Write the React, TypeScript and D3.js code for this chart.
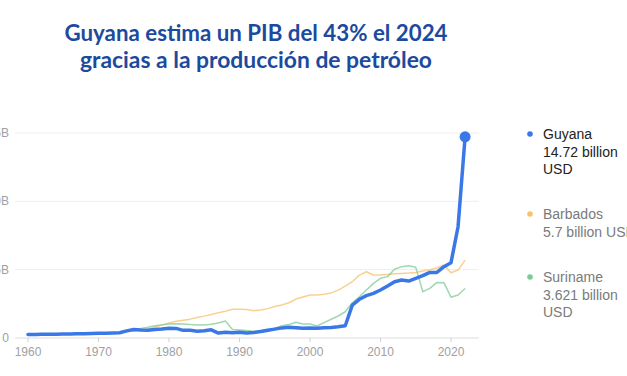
import React from "react";
import * as d3 from "d3";

const years: number[] = d3.range(1960, 2023);

const guyana: (number | null)[] = [
  0.25, 0.26, 0.27, 0.27, 0.28, 0.29, 0.3, 0.31, 0.32, 0.33,
  0.34, 0.35, 0.36, 0.38, 0.52, 0.62, 0.58, 0.56, 0.62, 0.66,
  0.72, 0.7, 0.56, 0.57, 0.5, 0.53, 0.6, 0.36, 0.42, 0.38,
  0.42, 0.37, 0.4, 0.48, 0.57, 0.65, 0.74, 0.78, 0.75, 0.72,
  0.74, 0.72, 0.75, 0.77, 0.82, 0.9, 2.41, 2.83, 3.1, 3.27,
  3.51, 3.8, 4.12, 4.24, 4.17, 4.37, 4.56, 4.8, 4.8, 5.22,
  5.51, 8.14, 14.72,
];

const barbados: (number | null)[] = [
  null, null, null, null, null, null, null, null, null, null,
  0.3, 0.32, 0.35, 0.38, 0.45, 0.52, 0.56, 0.64, 0.8, 0.95,
  1.1, 1.22, 1.3, 1.38, 1.5, 1.6, 1.72, 1.84, 1.96, 2.1,
  2.1, 2.08, 2.0, 2.05, 2.15, 2.3, 2.42, 2.58, 2.85, 3.0,
  3.15, 3.15, 3.2, 3.3, 3.5, 3.8, 4.12, 4.6, 4.85, 4.61,
  4.61, 4.65, 4.7, 4.72, 4.75, 4.8, 4.9, 5.0, 5.12, 5.34,
  4.78, 4.97, 5.7,
];

const suriname: (number | null)[] = [
  null, null, null, null, null, null, null, null, null, null,
  null, null, null, null, null, 0.6, 0.7, 0.78, 0.9, 0.96,
  1.02, 1.05, 1.02, 0.98, 0.96, 0.96, 1.0, 1.1, 1.25, 0.62,
  0.58, 0.55, 0.5, 0.45, 0.48, 0.7, 0.9, 0.98, 1.15, 1.02,
  1.02, 0.88, 1.12, 1.37, 1.61, 1.92, 2.58, 3.02, 3.51, 4.0,
  4.37, 4.49, 5.03, 5.22, 5.29, 5.17, 3.39, 3.63, 4.07, 4.05,
  2.98, 3.15, 3.62,
];

const yTicks: number[] = [0, 5, 10, 15];
const yTickLabels: string[] = ["0", "5B", "10B", "15B"];
const xTicks: number[] = [1960, 1970, 1980, 1990, 2000, 2010, 2020];

const titleLines: string[] = [
  "Guyana estima un PIB del 43% el 2024",
  "gracias a la producción de petróleo",
];

const legendItems = [
  { name: "Guyana", lines: ["Guyana", "14.72 billion", "USD"], color: "#3b78e7", text: "#222222" },
  { name: "Barbados", lines: ["Barbados", "5.7 billion USD"], color: "#f6c26b", text: "#7a7a7a" },
  { name: "Suriname", lines: ["Suriname", "3.621 billion", "USD"], color: "#7ccb96", text: "#7a7a7a" },
];

export default function App() {
  const W = 627;
  const H = 376;
  const x = d3.scaleLinear().domain([1960, 2020]).range([28, 451]);
  const y = d3.scaleLinear().domain([0, 15]).range([338, 133]);

  const mk = (vals: (number | null)[]) =>
    d3
      .line<number>()
      .defined((i) => vals[i] != null)
      .x((i) => x(years[i]))
      .y((i) => y(vals[i] as number))(d3.range(years.length)) || "";

  const last = years.length - 1;
  const legendTop = [139, 219, 282];

  return (
    <svg
      width={W}
      height={H}
      style={{ position: "absolute", left: 0, top: 0, background: "#ffffff", overflow: "hidden" }}
      fontFamily="'Liberation Sans', Arial, sans-serif"
    >
      <rect x={0} y={0} width={W} height={H} fill="#ffffff" />
      {/* Title */}
      <text
        x={256}
        y={41}
        textAnchor="middle"
        fontFamily="Lato, 'Open Sans', sans-serif"
        fontWeight={700}
        fontSize={22}
        fill="#1c4a9e"
        textLength={383}
        lengthAdjust="spacingAndGlyphs"
      >
        {titleLines[0]}
      </text>
      <text
        x={256}
        y={68}
        textAnchor="middle"
        fontFamily="Lato, 'Open Sans', sans-serif"
        fontWeight={700}
        fontSize={22}
        fill="#1c4a9e"
        textLength={352}
        lengthAdjust="spacingAndGlyphs"
      >
        {titleLines[1]}
      </text>

      {/* Grid */}
      {yTicks.map((t, i) => (
        <g key={t}>
          <line x1={15} x2={479} y1={y(t)} y2={y(t)} stroke={t === 0 ? "#dcdcdc" : "#eeeeee"} strokeWidth={1} />
          <text x={9} y={y(t) + 4} textAnchor="end" fontSize={12} fill="#a0a0a0">
            {yTickLabels[i]}
          </text>
        </g>
      ))}
      {xTicks.map((t) => (
        <g key={t}>
          <line x1={x(t)} x2={x(t)} y1={y(0)} y2={y(0) + 4} stroke="#d0d0d0" strokeWidth={1} />
          <text x={x(t)} y={356} textAnchor="middle" fontSize={12} fill="#a0a0a0">
            {t}
          </text>
        </g>
      ))}

      {/* Lines */}
      <path d={mk(barbados)} fill="none" stroke="#f6c26b" strokeOpacity={0.75} strokeWidth={1.5} strokeLinejoin="round" />
      <path d={mk(suriname)} fill="none" stroke="#7ccb96" strokeOpacity={0.75} strokeWidth={1.5} strokeLinejoin="round" />
      <path d={mk(guyana)} fill="none" stroke="#3b78e7" strokeWidth={3.5} strokeLinejoin="round" strokeLinecap="round" />
      <circle cx={x(years[last])} cy={y(guyana[last] as number)} r={5.5} fill="#3b78e7" />

      {/* Legend */}
      {legendItems.map((it, k) => (
        <g key={it.name}>
          <circle cx={530} cy={legendTop[k] - 5} r={2.8} fill={it.color} />
          {it.lines.map((ln, j) => (
            <text key={j} x={543} y={legendTop[k] + j * 17.5} fontSize={14} fill={it.text}>
              {ln}
            </text>
          ))}
        </g>
      ))}
    </svg>
  );
}
